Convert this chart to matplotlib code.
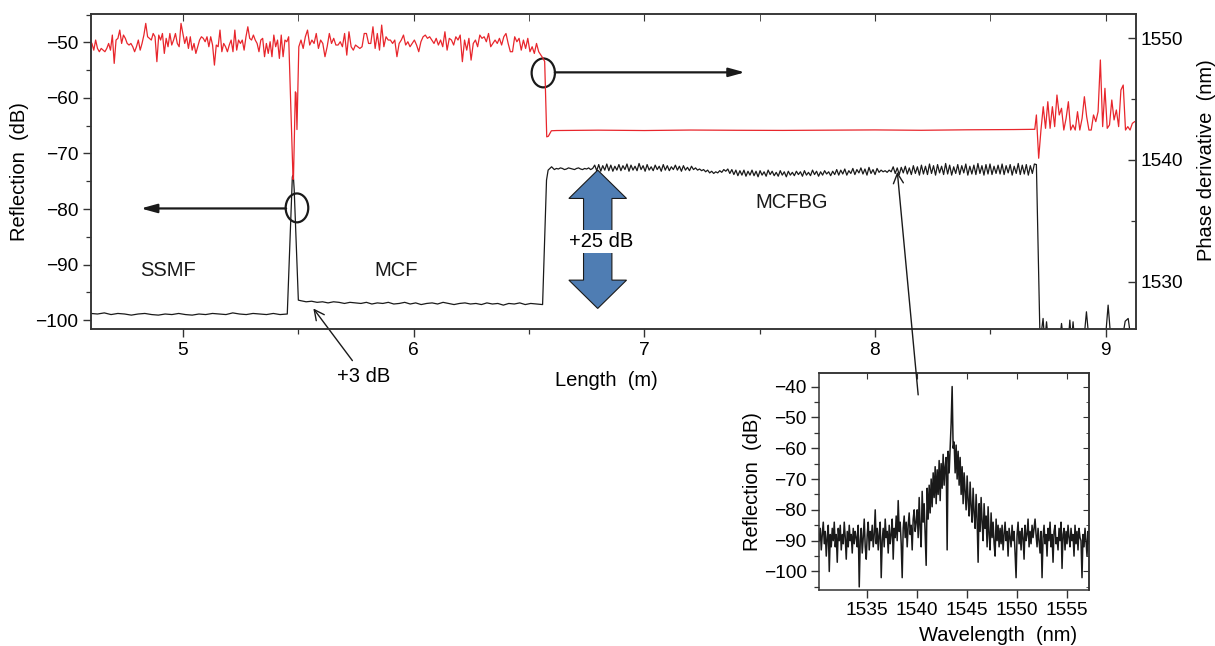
# -*- coding: utf-8 -*-
"""
OFDR trace: SSMF -> MCF -> MCFBG (reflection + phase derivative),
with the MCFBG reflection spectrum as an inset.
"""
import numpy as np
import matplotlib
matplotlib.use("Agg")
import matplotlib.pyplot as plt
from matplotlib.patches import Ellipse, FancyArrow
from matplotlib.ticker import MultipleLocator

plt.rcParams["font.family"] = ["Liberation Sans", "DejaVu Sans"]
plt.rcParams["axes.unicode_minus"] = True

RED = "#e8262c"
BLUE = "#4f7db3"
INK = "#1a1a1a"

# ---------------- reflection (dB), black trace, left axis ----------------
ssmf_span = (4.60, 5.45)
ssmf_refl = [-98.8, -98.9, -98.7, -99.0, -98.8, -98.9, -99.1, -98.9, -98.8, -99.0,
             -99.1, -98.9, -99.0, -98.8, -99.0, -99.1, -98.9, -99.0, -98.8, -98.9,
             -99.0, -98.7, -98.9, -99.0, -98.8, -98.9, -99.0, -98.8, -99.0, -98.9]
peak_x = [5.452, 5.474, 5.478, 5.482, 5.500]
peak_refl = [-98.9, -74.2, -73.9, -76.5, -96.4]
mcf_span = (5.51, 6.555)
mcf_refl = [-96.5, -96.7, -96.6, -96.8, -96.7, -96.9, -96.7, -96.8, -97.0, -96.8,
            -96.9, -97.0, -96.8, -97.1, -96.9, -97.0, -96.8, -97.1, -97.0, -96.8,
            -97.1, -96.9, -97.2, -97.0, -96.9, -97.1, -96.8, -97.0, -97.2, -97.0,
            -96.9, -97.1, -97.0, -97.2, -96.9, -97.1, -97.0, -97.3, -97.0, -97.1,
            -96.9, -97.2, -97.0, -97.1, -97.2]
rise_x = [6.559, 6.576, 6.583, 6.598]
rise_refl = [-97.2, -74.8, -73.0, -72.4]
mcfbg_span = (6.61, 8.70)
mcfbg_refl = [
    -72.9, -72.7, -72.8, -72.6, -72.7, -72.9, -72.8, -72.6, -72.7, -72.8,
    -72.9, -72.7, -72.6, -72.8, -72.9, -72.7, -72.8, -72.6, -72.9, -72.7,
    -72.1, -73.1, -72.0, -73.2, -72.2, -73.0, -71.9, -73.1, -72.1, -73.2,
    -72.3, -73.0, -72.0, -73.1, -72.2, -72.9, -71.9, -73.2, -72.1, -73.0,
    -72.3, -73.1, -71.8, -72.9, -72.2, -73.2, -72.0, -73.0, -72.4, -73.1,
    -72.1, -72.9, -72.3, -73.2, -72.0, -73.0, -72.2, -73.1, -72.4, -72.9,
    -72.1, -73.0, -72.3, -73.2, -72.2, -73.0, -72.5, -73.1, -72.3, -72.9,
    -72.6, -73.0, -72.8, -73.1, -72.9, -73.3, -73.0, -73.5, -73.2, -73.6,
    -73.3, -73.5, -73.1, -73.4, -72.9, -73.2, -72.8, -73.6, -72.9, -73.8,
    -73.0, -74.0, -73.1, -73.9, -73.0, -74.1, -73.2, -73.9, -73.0, -74.0,
    -73.2, -74.2, -73.1, -73.9, -73.3, -74.1, -73.0, -73.8, -73.2, -74.0,
    -73.4, -74.1, -73.1, -73.9, -73.3, -74.2, -73.2, -73.9, -73.4, -74.0,
    -73.2, -73.8, -73.3, -74.1, -73.1, -73.9, -73.4, -74.0, -73.0, -73.8,
    -73.2, -74.1, -73.3, -73.9, -73.1, -73.7, -73.3, -74.0, -73.2, -73.8,
    -72.9, -73.9, -73.0, -73.7, -72.8, -73.9, -73.1, -73.6, -72.7, -73.8,
    -72.9, -73.5, -72.6, -73.7, -72.8, -73.9, -72.5, -73.6, -72.9, -73.8,
    -72.7, -73.4, -73.0, -73.3, -73.1, -73.4, -73.0, -73.3, -72.4, -73.6,
    -72.6, -73.8, -72.5, -73.5, -72.3, -73.7, -72.6, -73.8, -72.2, -73.6,
    -72.4, -73.9, -72.1, -73.7, -72.3, -73.8, -71.9, -73.6, -72.2, -73.9,
    -72.0, -73.5, -72.3, -73.8, -71.8, -73.7, -72.1, -73.9, -72.4, -73.6,
    -72.0, -73.8, -72.2, -73.5, -71.9, -73.9, -72.3, -73.7, -72.1, -73.8,
    -71.8, -73.6, -72.2, -73.9, -72.0, -73.7, -71.9, -73.8, -72.3, -73.6,
    -72.1, -73.7, -71.9, -73.8, -72.2, -73.5, -72.0, -73.9, -72.3, -73.6,
    -71.8, -73.8, -72.1, -73.7, -72.0, -73.9, -72.2, -73.6, -71.9, -72.0]
tail_x = [8.716, 8.729, 8.736, 8.744, 8.752, 8.800, 8.809, 8.818, 8.838, 8.845,
          8.852, 8.859, 8.866, 8.905, 8.917, 8.929, 8.998, 9.011, 9.024, 9.070,
          9.085, 9.098, 9.112, 9.140]
tail_refl = [-104, -99.7, -104, -100.3, -104, -104, -100.6, -104, -104, -100.0,
             -104, -100.3, -104, -104, -98.5, -104, -104, -97.3, -104, -104,
             -100.2, -99.7, -104, -104]

# ---------------- phase derivative (nm), red trace, right axis ----------------
red_a_span = (4.605, 5.458)
red_a = [1549.58, 1549.03, 1549.86, 1549.17, 1548.90, 1549.17, 1549.03, 1548.90, 1549.17, 1549.58,
         1549.03, 1550.27, 1547.94, 1549.86, 1550.00, 1550.68, 1549.58, 1550.27, 1550.00, 1549.58,
         1549.45, 1549.58, 1549.31, 1548.90, 1549.31, 1549.86, 1549.03, 1549.58, 1550.27, 1551.23,
         1550.13, 1550.00, 1549.86, 1550.40, 1550.13, 1548.08, 1550.27, 1549.86, 1550.40, 1548.76,
         1550.00, 1549.31, 1550.40, 1549.45, 1549.86, 1550.40, 1549.58, 1549.31, 1551.23, 1550.40,
         1549.58, 1550.13, 1549.17, 1550.13, 1549.03, 1549.58, 1548.76, 1549.31, 1549.86, 1550.13,
         1550.00, 1549.72, 1550.13, 1549.31, 1550.13, 1549.45, 1547.80, 1549.45, 1549.31, 1550.68,
         1548.90, 1549.58, 1549.31, 1548.90, 1549.45, 1549.86, 1548.90, 1550.68, 1549.03, 1549.86,
         1549.58, 1549.86, 1549.03, 1550.13, 1550.95, 1550.00, 1549.86, 1550.27, 1549.86, 1549.58,
         1548.90, 1549.86, 1550.00, 1548.49, 1549.58, 1548.76, 1549.72, 1548.49, 1550.27, 1549.31,
         1549.86, 1548.35, 1550.27, 1548.49, 1549.86, 1549.72, 1550.13]
red_dip_x = [5.477, 5.479, 5.487, 5.490, 5.494]
red_dip = [1538.4, 1538.6, 1545.6, 1545.5, 1542.5]
red_b_span = (5.502, 6.561)
red_b = [1549.31, 1549.86, 1549.17, 1550.13, 1550.68, 1549.45, 1549.86, 1549.58, 1550.40, 1549.17,
         1549.86, 1549.58, 1548.49, 1549.31, 1550.40, 1549.58, 1550.00, 1549.45, 1549.45, 1549.72,
         1549.31, 1550.40, 1548.62, 1550.54, 1549.31, 1549.03, 1549.45, 1549.31, 1549.17, 1549.31,
         1550.40, 1550.40, 1549.58, 1549.58, 1550.95, 1549.17, 1550.40, 1549.03, 1551.09, 1549.31,
         1550.13, 1549.86, 1549.86, 1549.58, 1549.86, 1548.49, 1549.58, 1549.86,
         1550.27, 1549.45, 1549.72, 1549.31, 1549.58, 1549.86, 1549.45, 1548.90, 1549.72, 1550.13,
         1550.27, 1550.00, 1550.13, 1549.86, 1549.58, 1550.00, 1549.45, 1549.86, 1549.31, 1550.54,
         1549.03, 1550.00, 1549.86, 1549.45, 1550.13, 1549.86, 1550.27, 1548.08, 1549.86, 1549.03,
         1550.00, 1548.21, 1549.58, 1549.86, 1549.31, 1550.27, 1550.00, 1550.13, 1549.72, 1550.40,
         1549.31, 1549.58, 1549.86, 1549.58, 1550.00, 1549.45, 1550.13, 1550.40, 1549.58, 1548.90,
         1548.90, 1550.13, 1549.72, 1550.00, 1549.03, 1549.86, 1549.17, 1550.00, 1548.90, 1549.31,
         1548.76, 1549.58, 1548.90, 1548.62, 1548.35]
red_drop_x = [6.568, 6.577, 6.584, 6.597]
red_drop = [1548.1, 1541.9, 1541.95, 1542.4]
red_flat_x = [6.62, 6.80, 7.00, 7.20, 7.40, 7.60, 7.80, 8.00, 8.20, 8.40, 8.60, 8.693]
red_flat = [1542.42, 1542.45, 1542.42, 1542.46, 1542.44, 1542.43, 1542.45, 1542.47,
            1542.44, 1542.48, 1542.50, 1542.52]
red_c_span = (8.700, 9.126)
red_c = [1543.70, 1540.14, 1542.46, 1544.38, 1542.60, 1544.79, 1542.60, 1544.38, 1542.74, 1545.34,
         1543.70, 1544.25, 1542.46, 1543.42, 1544.79, 1542.46, 1542.88, 1542.46, 1543.97, 1542.46,
         1543.42, 1545.20, 1543.56, 1542.46, 1542.46, 1543.70, 1543.15, 1543.97, 1548.22, 1542.74,
         1545.89, 1542.60, 1542.88, 1544.93, 1543.29, 1544.11, 1542.74, 1545.75, 1546.16, 1542.46,
         1542.74, 1542.46, 1543.01, 1543.15]

# ---------------- inset: MCFBG reflection spectrum ----------------
spec_span = (1530.2, 1557.2)
spec_refl = [
    -90, -86, -93, -88, -84, -91, -87, -95, -89, -85, -100, -88, -92, -86, -90, -84, -92, -88, -97, -86,
    -90, -85, -93, -88, -91, -84, -89, -96, -87, -92, -85, -90, -88, -94, -86, -91, -87, -89,
    -92, -85, -105, -90, -86, -94, -89, -83, -92, -96,
    -88, -84, -93, -87, -90, -85, -92, -88, -80, -91,
    -86, -93, -88, -84, -102, -90, -86, -92, -83, -89, -87, -94,
    -85, -91, -88, -83, -96, -86, -89, -82, -90, -77,
    -87, -84, -91, -102, -86, -82, -89, -84, -92, -85,
    -81, -88, -85, -93, -83, -80, -87, -84,
    -80, -89, -76, -86, -92, -74, -84, -78, -88, -98, -73, -83, -72, -81, -70,
    -79, -68, -76, -66, -78, -67, -75, -64, -77, -65, -73, -62, -72, -66, -63, -93, -61, -68, -60, -52,
    -40, -60, -58, -68, -59, -70, -61,
    -72, -63, -75, -66, -78, -68, -74, -80, -69, -77,
    -82, -71, -79, -84, -73, -81, -86, -75, -83, -97, -78,
    -87, -76, -84, -90, -78, -86, -82, -92, -79, -88, -93, -81, -89, -84, -91, -95, -83, -90, -85, -92,
    -86, -91, -85, -93, -88, -84, -90, -87, -95, -86,
    -89, -92, -85, -90, -87, -94, -102, -88, -84, -91,
    -87, -93, -86, -89, -96, -85, -90, -88, -83, -92,
    -87, -91, -85, -89, -86, -83, -88, -92, -86, -90,
    -94, -87, -102, -89, -85, -91, -88, -95, -86, -90,
    -84, -92, -88, -97, -87, -85, -91, -89, -93, -86,
    -90, -84, -99, -88, -86, -93, -87, -91, -85, -89,
    -92, -86, -90, -88, -95, -85, -91, -87, -93, -86,
    -89, -90, -102, -88, -92, -86, -90, -95, -87, -91]

# ---------------- annotation anchors (data coordinates) ----------------
left_arrow = ((5.447, -79.9), (4.817, -79.9))      # from circle to tip
right_arrow = ((6.612, -55.4), (7.436, -55.4))
circles = [((5.494, -79.8), 0.098, 5.2), ((6.562, -55.5), 0.101, 5.2)]
gain_arrow = dict(x=6.798, y_mid=-85.5, y_top=-73.0, y_bot=-97.9,
                  width=0.123, head_width=0.25, head_length=5.1)
labels = [("SSMF", 4.936, -91.0), ("MCF", 5.922, -91.0), ("MCFBG", 7.640, -78.9)]

FS_TICK = 13.8
FS_TEXT = 14.5


def _span(span, values):
    return np.linspace(span[0], span[1], len(values))


def _style_ticks(ax):
    ax.tick_params(which="both", direction="out", color="#333333", labelsize=FS_TICK,
                   top=False, right=False, pad=3)
    ax.tick_params(which="major", length=6, width=1.0)
    ax.tick_params(which="minor", length=3.5, width=0.9)
    for sp in ax.spines.values():
        sp.set_color("#333333")
        sp.set_linewidth(1.1)


def main():
    fig = plt.figure(figsize=(12.15, 6.46), dpi=100)
    ax = fig.add_axes([0.0749, 0.4907, 0.8601, 0.4876])

    # black reflection trace
    bx = np.concatenate([_span(ssmf_span, ssmf_refl), peak_x, _span(mcf_span, mcf_refl),
                         rise_x, _span(mcfbg_span, mcfbg_refl), tail_x])
    by = np.concatenate([ssmf_refl, peak_refl, mcf_refl, rise_refl, mcfbg_refl, tail_refl])
    ax.plot(bx, by, color=INK, lw=0.9)

    ax.set_xlim(4.601, 9.132)
    ax.set_ylim(-101.6, -44.9)
    ax.xaxis.set_major_locator(MultipleLocator(1))
    ax.xaxis.set_minor_locator(MultipleLocator(0.5))
    ax.yaxis.set_major_locator(MultipleLocator(10))
    ax.yaxis.set_minor_locator(MultipleLocator(5))
    _style_ticks(ax)

    ax.set_xlabel("Length  (m)", fontsize=FS_TEXT)
    ax.xaxis.set_label_coords(0.493, -0.165)
    ax.xaxis.label.set_va("center")
    ax.set_ylabel("Reflection  (dB)", fontsize=FS_TEXT)
    ax.yaxis.set_label_coords(-0.068, 0.5)
    ax.yaxis.label.set_va("center")

    # red phase-derivative trace on the right axis
    ax2 = ax.twinx()
    rx = np.concatenate([_span(red_a_span, red_a), red_dip_x, _span(red_b_span, red_b),
                         red_drop_x, red_flat_x, _span(red_c_span, red_c)])
    ry = np.concatenate([red_a, red_dip, red_b, red_drop, red_flat, red_c])
    ax2.plot(rx, ry, color=RED, lw=0.9)
    ax2.set_ylim(1526.1, 1552.0)
    ax2.yaxis.set_major_locator(MultipleLocator(10))
    ax2.yaxis.set_minor_locator(MultipleLocator(5))
    ax2.tick_params(axis="y", which="both", direction="in", color="#333333",
                    labelsize=FS_TICK, pad=3)
    ax2.tick_params(axis="y", which="major", length=6, width=1.0)
    ax2.tick_params(axis="y", which="minor", length=3.5, width=0.9)
    ax2.xaxis.set_visible(True)
    ax2.tick_params(axis="x", which="both", direction="in", bottom=False, top=True,
                    labelbottom=False, labeltop=False, color="#333333")
    ax2.tick_params(axis="x", which="major", length=5)
    ax2.tick_params(axis="x", which="minor", length=5)
    for sp in ax2.spines.values():
        sp.set_color("#333333")
        sp.set_linewidth(1.1)
    ax2.set_ylabel("Phase derivative  (nm)", fontsize=FS_TEXT, rotation=90)
    ax2.yaxis.set_label_coords(1.0677, 0.5365)
    ax2.yaxis.label.set_va("center")

    # circles and direction arrows
    for (cx, cy), w, h in circles:
        ax.add_patch(Ellipse((cx, cy), w, h, fill=False, lw=1.6, color=INK, zorder=5))
    for (x0, y0), (x1, y1) in (left_arrow, right_arrow):
        ax.annotate("", xy=(x1, y1), xytext=(x0, y0),
                    arrowprops=dict(arrowstyle="-|>,head_length=0.8,head_width=0.22",
                                    lw=1.6, color=INK, mutation_scale=12,
                                    shrinkA=0, shrinkB=0), zorder=5)

    # +25 dB double arrow
    g = gain_arrow
    for y_end in (g["y_top"], g["y_bot"]):
        ax.add_patch(FancyArrow(g["x"], g["y_mid"], 0, y_end - g["y_mid"],
                                width=g["width"], head_width=g["head_width"],
                                head_length=g["head_length"], length_includes_head=True,
                                facecolor=BLUE, edgecolor=INK, lw=0.8, zorder=4))
    ax.text(6.811, -85.8, "+25 dB", fontsize=FS_TEXT, ha="center", va="center", zorder=6,
            bbox=dict(facecolor="white", edgecolor="none", pad=1.5))

    for txt, x, y in labels:
        ax.text(x, y, txt, fontsize=FS_TEXT, ha="center", va="center", color=INK)

    ax.annotate("+3 dB", xy=(5.565, -97.9), xytext=(5.785, -110.1),
                ha="center", va="center", fontsize=FS_TEXT, annotation_clip=False,
                arrowprops=dict(arrowstyle="->,head_length=0.6,head_width=0.3",
                                lw=1.0, color=INK, mutation_scale=12,
                                shrinkA=3, shrinkB=0))

    # inset spectrum
    ins = fig.add_axes([0.6743, 0.0867, 0.2220, 0.3364])
    ins.plot(_span(spec_span, spec_refl), spec_refl, color=INK, lw=1.1)
    ins.set_xlim(1530.2, 1557.2)
    ins.set_ylim(-106.0, -35.5)
    ins.xaxis.set_major_locator(MultipleLocator(5))
    ins.yaxis.set_major_locator(MultipleLocator(10))
    ins.yaxis.set_minor_locator(MultipleLocator(5))
    _style_ticks(ins)
    sx = ins.secondary_xaxis("top")
    sx.xaxis.set_major_locator(MultipleLocator(5))
    sx.tick_params(direction="in", labeltop=False, length=4, color="#333333")
    sy = ins.secondary_yaxis("right")
    sy.yaxis.set_major_locator(MultipleLocator(10))
    sy.yaxis.set_minor_locator(MultipleLocator(5))
    sy.tick_params(which="both", direction="in", labelright=False, color="#333333")
    sy.tick_params(which="major", length=4)
    sy.tick_params(which="minor", length=2.5)
    for sec in (sx, sy):
        for sp in sec.spines.values():
            sp.set_color("#333333")
            sp.set_linewidth(1.1)
    ins.set_xlabel("Wavelength  (nm)", fontsize=FS_TEXT)
    ins.xaxis.set_label_coords(0.663, -0.21)
    ins.xaxis.label.set_va("center")
    ins.set_ylabel("Reflection  (dB)", fontsize=FS_TEXT)
    ins.yaxis.set_label_coords(-0.246, 0.5)
    ins.yaxis.label.set_va("center")

    # pointer from MCFBG trace into the inset
    ins.annotate("", xy=(8.097, -73.3), xycoords=ax.transData,
                 xytext=(1540.1, -42.7), textcoords="data", annotation_clip=False,
                 arrowprops=dict(arrowstyle="->,head_length=0.6,head_width=0.3",
                                 lw=1.0, color=INK, mutation_scale=12,
                                 shrinkA=0, shrinkB=0))

    fig.savefig("out.png", dpi=100)
    plt.close(fig)


if __name__ == "__main__":
    main()
